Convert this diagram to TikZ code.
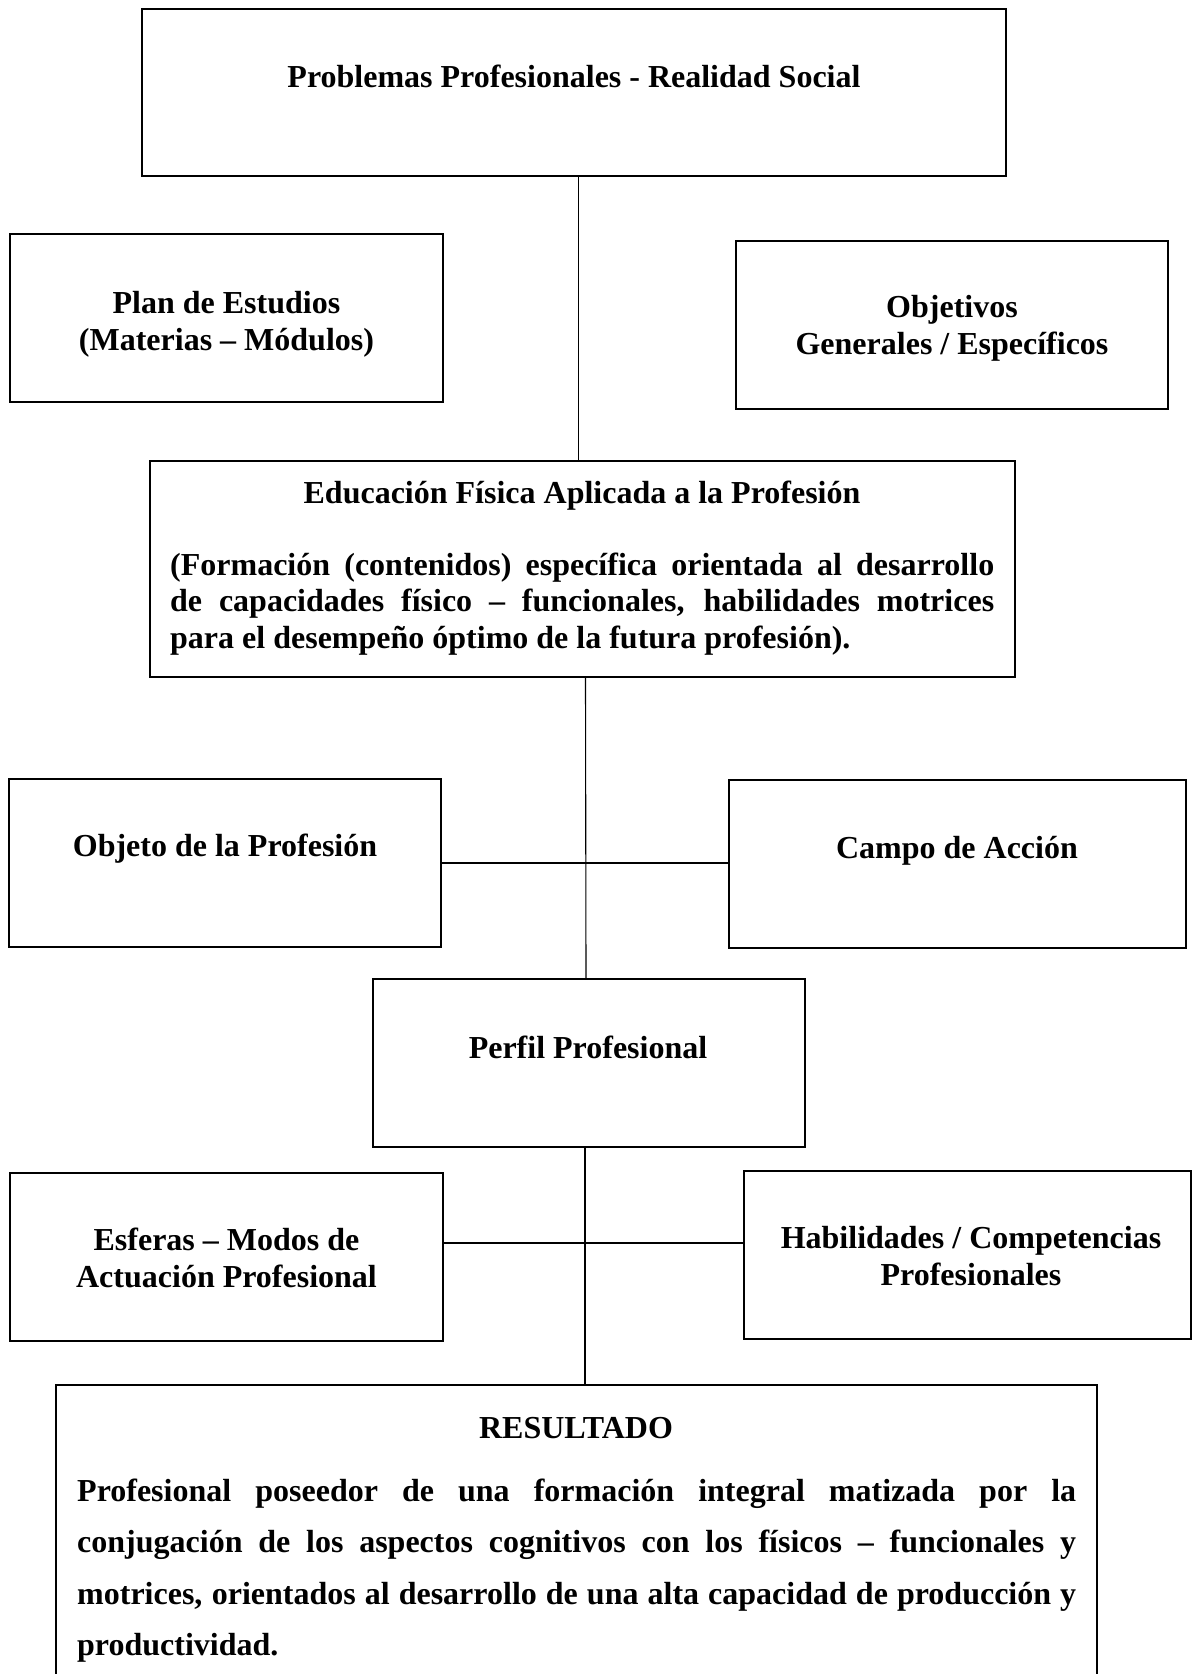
\documentclass[tikz,border=0pt]{standalone}
\usepackage{fontspec}
\setmainfont{Liberation Serif}
\usetikzlibrary{calc}
\hyphenpenalty=10000
\exhyphenpenalty=10000
\begin{document}
\begin{tikzpicture}[x=1pt,y=-1pt,
  box/.style={draw, line width=1.8pt, rectangle, inner sep=0pt},
  lbl/.style={font=\fontsize{32}{36.8}\selectfont\bfseries, inner sep=0pt, anchor=base, align=center},
  para/.style={font=\fontsize{32}{36.8}\selectfont\bfseries, inner sep=0pt, anchor=base west, align=justify},
  vlink/.style={line width=1.1pt},
  hlink/.style={line width=1.8pt}]
\useasboundingbox (0,0) rectangle (1192,1674);
\clip (0,0) rectangle (1192,1674);
\fill[white] (0,0) rectangle (1192,1674);

% boxes
\node[box, minimum width=864pt, minimum height=167pt] (prob) at (574,92.5) {};
\node[box, minimum width=433pt, minimum height=168pt] (plan) at (226.5,318) {};
\node[box, minimum width=432pt, minimum height=168pt] (objt) at (952,325) {};
\node[box, minimum width=865pt, minimum height=216pt] (edu) at (582.5,569) {};
\node[box, minimum width=432pt, minimum height=168pt] (objeto) at (225,863) {};
\node[box, minimum width=457pt, minimum height=168pt] (campo) at (957.5,864) {};
\node[box, minimum width=432pt, minimum height=168pt] (perfil) at (589,1063) {};
\node[box, minimum width=433pt, minimum height=168pt] (esf) at (226.5,1257) {};
\node[box, minimum width=447pt, minimum height=168pt] (hab) at (967.5,1255) {};
\node[box, minimum width=1041pt, minimum height=335pt] (res) at (576.5,1552.5) {};

% texts (multi-line centred nodes: base = last line)
\node[lbl] (tprob) at (574,87) {Problemas Profesionales - Realidad Social};
\node[lbl] (tplan) at (226.5,350) {Plan de Estudios\\(Materias – Módulos)};
\node[lbl] (tobjt) at (952,354) {Objetivos\\Generales / Específicos};
\node[lbl] (tedu) at (582,503) {Educación Física Aplicada a la Profesión};
\node[para, text width=824pt] (pedu) at (170,575) {(Formación (contenidos) específica orientada al desarrollo\linebreak de capacidades físico – funcionales, habilidades motrices\linebreak para el desempeño óptimo de la futura profesión).};
\node[lbl] (tobjeto) at (225,856) {Objeto de la Profesión};
\node[lbl] (tcampo) at (957,858) {Campo de Acción};
\node[lbl] (tperfil) at (588,1058) {Perfil Profesional};
\node[lbl] (tesf) at (226.5,1287) {Esferas – Modos de\\Actuación Profesional};
\node[lbl] (thab) at (971,1285) {Habilidades / Competencias\\Profesionales};
\node[lbl] (tres) at (576,1438) {RESULTADO};
\node[para, text width=999pt, font=\fontsize{32}{51.5}\selectfont\bfseries] (pres) at (77,1501) {Profesional poseedor de una formación integral matizada por la\linebreak conjugación de los aspectos cognitivos con los físicos – funcionales y\linebreak motrices, orientados al desarrollo de una alta capacidad de producción y\linebreak productividad.};

% connectors
\draw[vlink] ([xshift=-4pt]edu.north |- prob.south) -- ([xshift=-4pt]edu.north);
\draw[vlink] ([xshift=3pt]edu.south) -- ([xshift=-3pt]perfil.north);
\draw[hlink] (objeto.east) -- (objeto.east -| campo.west);
\draw[vlink] ([xshift=-4pt]perfil.south) -- ([xshift=-4pt]perfil.south |- res.north);
\draw[hlink] ([yshift=14pt]esf.east) -- ([yshift=14pt]esf.east -| hab.west);
\end{tikzpicture}
\end{document}
